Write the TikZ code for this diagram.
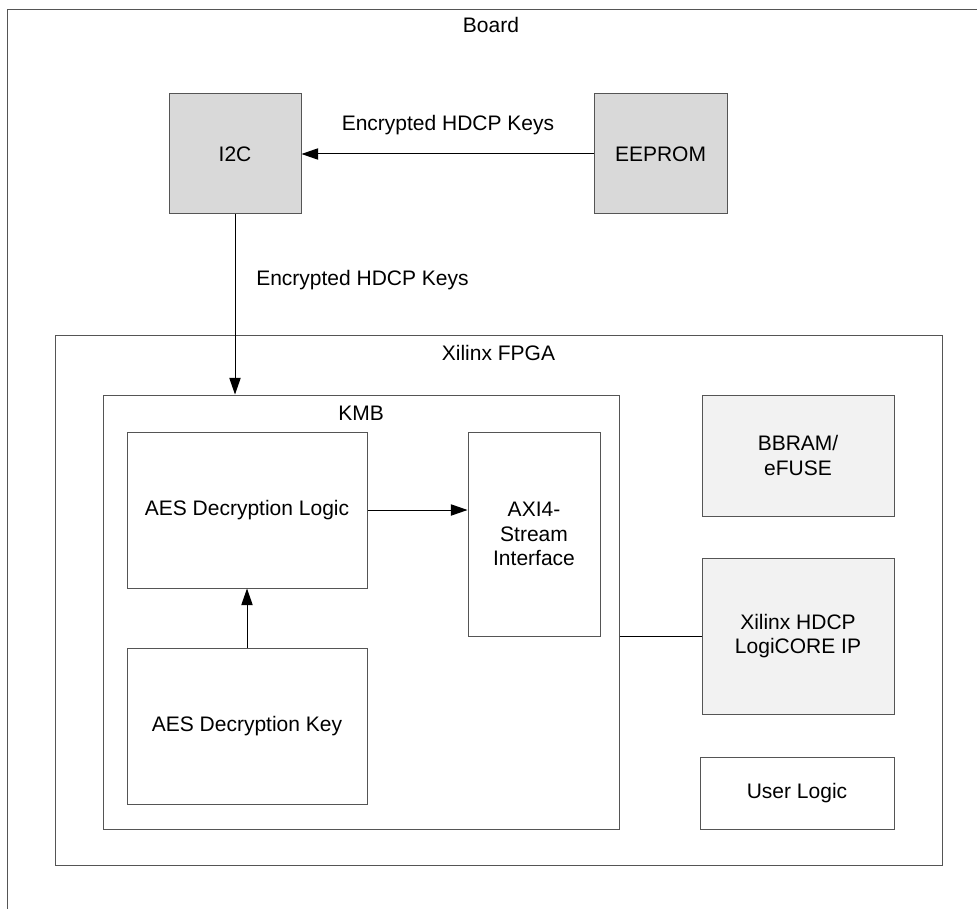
\documentclass[tikz,border=0pt]{standalone}
\usepackage{fontspec}
\setmainfont{Liberation Sans}
\usetikzlibrary{arrows.meta}
\definecolor{darkfill}{HTML}{D9D9D9}
\definecolor{lightfill}{HTML}{F2F2F2}
\definecolor{edge}{HTML}{555555}
\begin{document}
\begin{tikzpicture}[x=0.75pt,y=-0.75pt,
  every node/.style={font=\fontsize{15.75}{18.5}\selectfont, inner sep=0pt, align=center},
  blk/.style={draw=edge, line width=0.75pt, rectangle},
  conn/.style={draw=black, line width=0.75pt},
  arr/.style={conn, -{Triangle[length=12.5pt,width=8.5pt]}},
  lbl/.style={text=black}]
\useasboundingbox (0,0) rectangle (977,909);
% Board frame (open on right and bottom)
\coordinate (bTR) at (977,10);
\coordinate (bTL) at (7,10);
\coordinate (bBL) at (7,909);
\draw[edge, line width=0.75pt] (bTR) -- (bTL) -- (bBL);
\node[lbl] (boardlbl) at (491,25) {Board};
% Board-level boxes
\node[blk, fill=darkfill, minimum width=99pt, minimum height=90pt] (i2c) at (235,154) {I2C};
\node[blk, fill=darkfill, minimum width=99.75pt, minimum height=90pt] (eeprom) at (660.5,154) {EEPROM};
% FPGA
\node[blk, minimum width=665.25pt, minimum height=397.5pt] (fpga) at (498.5,600) {};
\node[lbl] (fpgalbl) at (498.5,353) {Xilinx FPGA};
% KMB
\node[blk, minimum width=387pt, minimum height=325.5pt] (kmb) at (361,612) {};
\node[lbl] (kmblbl) at (361,413) {KMB};
\node[blk, minimum width=180pt, minimum height=117pt] (logic) at (247,510) {AES Decryption Logic};
\node[blk, minimum width=180pt, minimum height=117pt] (key) at (247,726) {AES Decryption Key};
\node[blk, minimum width=99pt, minimum height=153pt] (axi) at (534,534) {AXI4-\\Stream\\Interface};
% Right column
\node[blk, fill=lightfill, minimum width=144pt, minimum height=90.75pt] (bbram) at (798,455.5) {BBRAM/\\eFUSE};
\node[blk, fill=lightfill, minimum width=144pt, minimum height=117pt] (hdcp) at (798,636) {Xilinx HDCP\\LogiCORE IP};
\node[blk, minimum width=145.5pt, minimum height=54pt] (user) at (797,793) {User Logic};
% Connectors
\draw[arr] (eeprom.west) -- (i2c.east);
\node[lbl] (toplbl) at (448,125) {Encrypted HDCP Keys};
\draw[arr] (i2c.south) -- (i2c.south |- kmb.north);
\node[lbl, anchor=west] (midlbl) at (256,280) {Encrypted HDCP Keys};
\draw[arr] (key.north) -- (logic.south);
\draw[arr] (logic.east) -- (axi.west |- logic.east);
\draw[conn] (kmb.east |- hdcp.west) -- (hdcp.west);
\end{tikzpicture}
\end{document}
